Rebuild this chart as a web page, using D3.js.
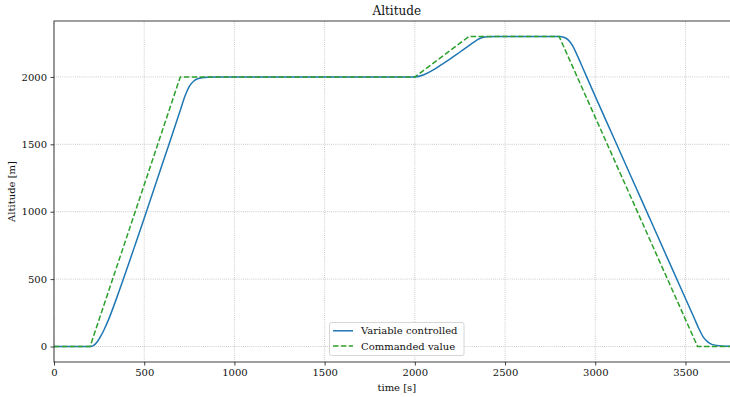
<!DOCTYPE html>
<html lang="en">
<head>
    <meta charset="utf-8">
    <title>Altitude</title>
    <script src="https://d3js.org/d3.v7.min.js"></script>
    <style>
        html, body {
            margin: 0;
            padding: 0;
            background: white;
        }
        text {
            font-family: "DejaVu Serif", serif;
            font-size: 10px;
            fill: #111;
        }
        .grid line {
            stroke: #b0b0b0;
            stroke-width: 0.8px;
            stroke-dasharray: 0.8, 1.3;
        }
        .axis path { display: none; }
        .axis line {
            stroke: #111;
            stroke-width: 0.8px;
        }
    </style>
</head>
<body>
<script type="text/javascript">

    // canvas
    var w = 730;
    var h = 397;
    var padLeft = 54, padTop = 21, padBottom = 362;
    var xMax = 3800;
    var pxPerSec = 90.21 / 500;
    var padRight = padLeft + xMax * pxPerSec;

    // commanded altitude (breakpoints)
    var cmdTime  = [0, 200, 700, 2000, 2300, 2800, 3567, 3800];
    var cmdAlt   = [0, 0, 2000, 2000, 2300, 2300, 0, 0];

    var ctlTime = [0, 200, 220, 240, 260, 280, 300, 350, 400, 450, 500, 600, 700, 725, 750, 775, 800, 850, 900,
                   2000, 2050, 2100, 2150, 2200, 2250, 2300, 2325, 2350, 2375, 2400, 2450,
                   2800, 2825, 2850, 2875, 2900, 2925, 2950, 3000, 3100, 3200, 3300, 3400, 3500, 3550, 3575, 3600, 3625, 3650, 3700, 3750, 3800];
    var ctlAlt  = [0, 0, 8, 35, 78, 132, 192, 370, 560, 755, 952, 1352, 1752, 1855, 1930, 1970, 1988, 1998, 2000,
                   2000, 2016, 2050, 2094, 2138, 2185, 2232, 2256, 2278, 2293, 2299, 2300,
                   2300, 2295, 2275, 2230, 2160, 2085, 2008, 1856, 1556, 1256, 956, 656, 356, 206, 130, 68, 32, 14, 4, 2, 1];

    var xTicks = [0, 500, 1000, 1500, 2000, 2500, 3000, 3500];
    var yTicks = [0, 500, 1000, 1500, 2000];
    var seriesNames = ["Variable controlled", "Commanded value"];

    var xScale = d3.scaleLinear().domain([0, xMax]).range([padLeft, padRight]);
    var yScale = d3.scaleLinear().domain([-115, 2415]).range([padBottom, padTop]);

    var svg = d3.select("body")
        .append("svg")
        .attr("width", w)
        .attr("height", h);

    svg.append("defs").append("clipPath").attr("id", "clip")
        .append("rect")
        .attr("x", padLeft).attr("y", padTop)
        .attr("width", padRight - padLeft).attr("height", padBottom - padTop);

    // grid
    var grid = svg.append("g").attr("class", "grid");
    grid.selectAll(".gx").data(xTicks).enter().append("line")
        .attr("x1", function(d) { return xScale(d); })
        .attr("x2", function(d) { return xScale(d); })
        .attr("y1", padTop).attr("y2", padBottom);
    grid.selectAll(".gy").data(yTicks).enter().append("line")
        .attr("x1", padLeft).attr("x2", padRight)
        .attr("y1", function(d) { return yScale(d); })
        .attr("y2", function(d) { return yScale(d); });

    // lines
    var ctlData = ctlTime.map(function(t, i) { return [t, ctlAlt[i]]; });
    var cmdData = cmdTime.map(function(t, i) { return [t, cmdAlt[i]]; });

    var smooth = d3.line()
        .x(function(d) { return xScale(d[0]); })
        .y(function(d) { return yScale(d[1]); })
        .curve(d3.curveMonotoneX);
    var straight = d3.line()
        .x(function(d) { return xScale(d[0]); })
        .y(function(d) { return yScale(d[1]); });

    var plot = svg.append("g").attr("clip-path", "url(#clip)");
    plot.append("path")
        .attr("d", smooth(ctlData))
        .attr("fill", "none")
        .attr("stroke", "#1f77b4")
        .attr("stroke-width", 1.5);
    plot.append("path")
        .attr("d", straight(cmdData))
        .attr("fill", "none")
        .attr("stroke", "#2ca02c")
        .attr("stroke-width", 1.5)
        .attr("stroke-dasharray", "5.5,2.4");

    // axes
    var xAxis = d3.axisBottom(xScale).tickValues(xTicks).tickSize(3.5).tickPadding(3.5).tickFormat(d3.format("d"));
    var yAxis = d3.axisLeft(yScale).tickValues(yTicks).tickSize(3.5).tickPadding(3.5).tickFormat(d3.format("d"));

    svg.append("g").attr("class", "axis")
        .attr("transform", "translate(0," + padBottom + ")")
        .call(xAxis);
    svg.append("g").attr("class", "axis")
        .attr("transform", "translate(" + padLeft + ",0)")
        .call(yAxis);
    svg.selectAll(".axis").attr("font-family", null).attr("font-size", null);
    svg.selectAll(".axis text").attr("fill", null);

    // frame
    svg.append("rect")
        .attr("x", padLeft).attr("y", padTop)
        .attr("width", padRight - padLeft).attr("height", padBottom - padTop)
        .attr("fill", "none")
        .attr("stroke", "#111")
        .attr("stroke-width", 0.8);

    // labels
    svg.append("text")
        .attr("x", (padLeft + padRight) / 2).attr("y", 15)
        .attr("text-anchor", "middle")
        .style("font-size", "12px")
        .text("Altitude");
    svg.append("text")
        .attr("x", (padLeft + padRight) / 2).attr("y", 391)
        .attr("text-anchor", "middle")
        .text("time [s]");
    svg.append("text")
        .attr("transform", "translate(15," + ((padTop + padBottom) / 2) + ") rotate(-90)")
        .attr("text-anchor", "middle")
        .text("Altitude [m]");

    // legend
    var lg = svg.append("g");
    lg.append("rect")
        .attr("x", 329.5).attr("y", 322.5)
        .attr("width", 134.5).attr("height", 33)
        .attr("rx", 2)
        .attr("fill", "white").attr("fill-opacity", 0.8)
        .attr("stroke", "#cccccc").attr("stroke-width", 0.8);
    var legendColors = ["#1f77b4", "#2ca02c"];
    var legendDash = [null, "5.5,2.4"];
    seriesNames.forEach(function(name, i) {
        var yy = 330.8 + i * 15.3;
        lg.append("line")
            .attr("x1", 333).attr("x2", 353)
            .attr("y1", yy).attr("y2", yy)
            .attr("stroke", legendColors[i])
            .attr("stroke-width", 1.5)
            .attr("stroke-dasharray", legendDash[i]);
        lg.append("text")
            .attr("x", 361).attr("y", yy + 3.6)
            .text(name);
    });

</script>
</body>
</html>
